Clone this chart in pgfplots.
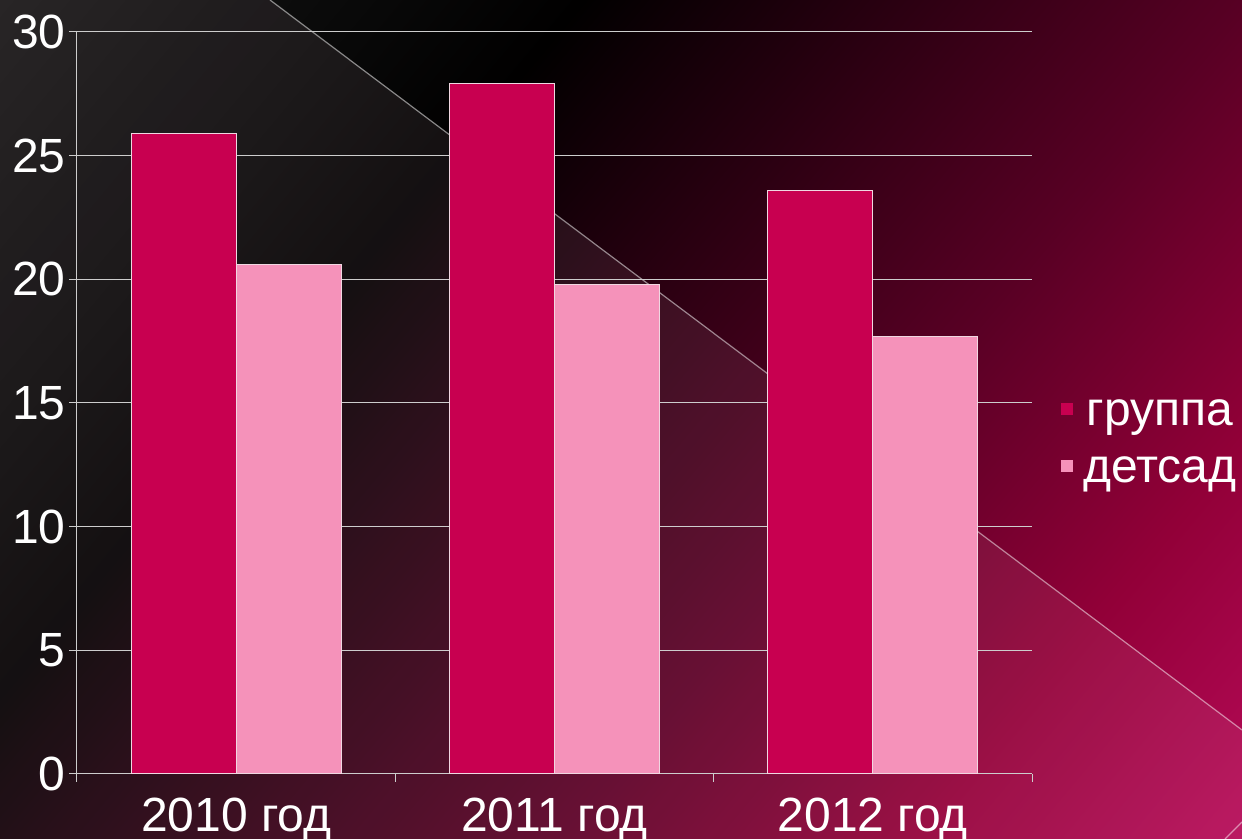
\documentclass[border=0pt]{standalone}
\usepackage{fontspec}
\setmainfont{Liberation Sans}
\usepackage{pgfplots}
\pgfplotsset{compat=1.18}
\definecolor{grp}{RGB}{200,0,80}
\definecolor{dts}{RGB}{245,146,186}
\definecolor{gridc}{RGB}{205,205,205}
\definecolor{barline}{RGB}{240,215,225}
\definecolor{c0}{RGB}{22,22,22}
\definecolor{c1}{RGB}{8,8,8}
\definecolor{c2}{RGB}{1,0,0}
\definecolor{c3}{RGB}{88,0,36}
\definecolor{c4}{RGB}{146,0,56}
\definecolor{c5}{RGB}{182,10,88}
\definecolor{ovl}{RGB}{255,215,230}
\pgfdeclarehorizontalshading{bgshade}{100bp}{color(0bp)=(c0); color(25bp)=(c0); color(35bp)=(c1); color(40bp)=(c2); color(57bp)=(c3); color(66.5bp)=(c4); color(75bp)=(c5); color(100bp)=(c5)}
\pgfplotsset{sqlegend/.style={legend image code/.code={\fill[##1, draw=none] (0pt,5.25pt) rectangle (6pt,11.25pt);}}}
\begin{document}
\begin{tikzpicture}
\useasboundingbox (0,0) rectangle (621pt,419.5pt);
\begin{scope}
\clip (0,0) rectangle (621pt,419.5pt);
\shade[shading=bgshade, transform canvas={rotate around={-40:(0,419.5pt)}}] (0,80pt) rectangle (745.5pt,830pt);
\fill[ovl, opacity=0.08] (0,0) -- (0,419.5pt) -- (135pt,419.5pt) -- (621pt,54.5pt) -- (621pt,0) -- cycle;
\draw[white, opacity=0.5, line width=0.6pt] (135pt,419.5pt) -- (621pt,54.5pt);
\draw[white, opacity=0.5, line width=0.6pt] (612.5pt,0pt) -- (621pt,8.5pt);
\end{scope}
\begin{axis}[
  at={(38.5pt,32.5pt)}, anchor=south west,
  scale only axis, width=477.5pt, height=371pt,
  xmin=-0.5, xmax=2.5, ymin=0, ymax=30,
  axis lines=left, axis line style={-, draw=gridc, line width=0.5pt},
  ytick={0,5,...,30}, ymajorgrids, grid style={draw=gridc, line width=0.5pt},
  tick align=outside, major tick length=4pt,
  tick style={draw=gridc, line width=0.5pt},
  xtick={-0.5,0.5,1.5,2.5}, xticklabels={},
  extra x ticks={0,1,2},
  extra x tick labels={2010 год, 2011 год, 2012 год},
  extra x tick style={major tick length=0pt, tick style={draw=none}},
  /pgf/number format/assume math mode=true,
  ticklabel style={font=\fontsize{24}{28}\selectfont, text=white},
  yticklabel style={inner sep=1.5pt},
  xticklabel style={inner sep=0pt, yshift=-12pt},
  legend style={at={(1.0304,0.504)}, anchor=north west, draw=none, fill=none,
    inner sep=0pt, outer sep=0pt, font=\fontsize{24}{28}\selectfont, text=white,
    row sep=14pt, column sep=5pt, nodes={inner sep=0pt, anchor=base}},
  legend cell align=left,
]
\addplot[ybar, bar width=0.33, bar shift=-0.165, fill=grp, draw=barline, line width=0.5pt, sqlegend]
  coordinates {(0,25.9) (1,27.9) (2,23.6)};
\addplot[ybar, bar width=0.33, bar shift=0.165, fill=dts, draw=barline, line width=0.5pt, sqlegend]
  coordinates {(0,20.6) (1,19.8) (2,17.7)};
\legend{группа, детсад}
\end{axis}
\end{tikzpicture}
\end{document}
